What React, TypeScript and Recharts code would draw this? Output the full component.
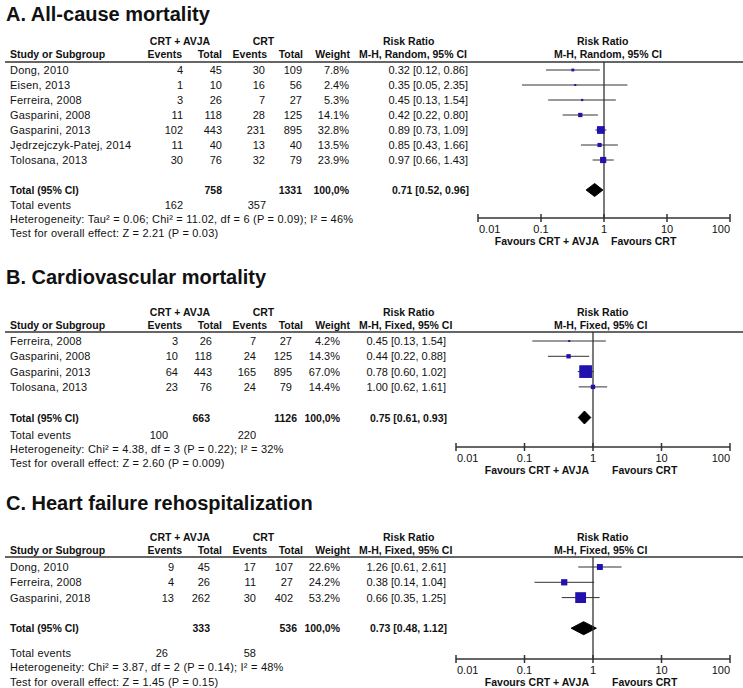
import React from 'react';
import { ComposedChart, Scatter, ErrorBar, Area, XAxis, YAxis, ReferenceLine } from 'recharts';

// A. All-cause mortality
const allStudies = ['Dong, 2010', 'Eisen, 2013', 'Ferreira, 2008', 'Gasparini, 2008', 'Gasparini, 2013', 'Jędrzejczyk-Patej, 2014', 'Tolosana, 2013'];
const allAvjaEvents = [4, 1, 3, 11, 102, 11, 30];
const allAvjaTotal = [45, 10, 26, 118, 443, 40, 76];
const allCrtEvents = [30, 16, 7, 28, 231, 13, 32];
const allCrtTotal = [109, 56, 27, 125, 895, 40, 79];
const allWeight = [7.8, 2.4, 5.3, 14.1, 32.8, 13.5, 23.9];
const allRR = [0.32, 0.35, 0.45, 0.42, 0.89, 0.85, 0.97];
const allLo = [0.12, 0.05, 0.13, 0.22, 0.73, 0.43, 0.66];
const allHi = [0.86, 2.35, 1.54, 0.8, 1.09, 1.66, 1.43];
const allTotal = { avja: 758, crt: 1331, avjaEvents: 162, crtEvents: 357, rr: 0.71, lo: 0.52, hi: 0.96 };

// B. Cardiovascular mortality
const cvStudies = ['Ferreira, 2008', 'Gasparini, 2008', 'Gasparini, 2013', 'Tolosana, 2013'];
const cvAvjaEvents = [3, 10, 64, 23];
const cvAvjaTotal = [26, 118, 443, 76];
const cvCrtEvents = [7, 24, 165, 24];
const cvCrtTotal = [27, 125, 895, 79];
const cvWeight = [4.2, 14.3, 67.0, 14.4];
const cvRR = [0.45, 0.44, 0.78, 1.0];
const cvLo = [0.13, 0.22, 0.6, 0.62];
const cvHi = [1.54, 0.88, 1.02, 1.61];
const cvTotal = { avja: 663, crt: 1126, avjaEvents: 100, crtEvents: 220, rr: 0.75, lo: 0.61, hi: 0.93 };

// C. Heart failure rehospitalization
const hfStudies = ['Dong, 2010', 'Ferreira, 2008', 'Gasparini, 2018'];
const hfAvjaEvents = [9, 4, 13];
const hfAvjaTotal = [45, 26, 262];
const hfCrtEvents = [17, 11, 30];
const hfCrtTotal = [107, 27, 402];
const hfWeight = [22.6, 24.2, 53.2];
const hfRR = [1.26, 0.38, 0.66];
const hfLo = [0.61, 0.14, 0.35];
const hfHi = [2.61, 1.04, 1.25];
const hfTotal = { avja: 333, crt: 536, avjaEvents: 26, crtEvents: 58, rr: 0.73, lo: 0.48, hi: 1.12 };

const TICKS = [0.01, 0.1, 1, 10, 100];

const W = 743;
const H = 688;
const PLOT_RIGHT = 730;
const FONT = "'Liberation Sans', Arial, Helvetica, sans-serif";
const INK = '#111';
const BLUE = '#2111ad';
const LINE = '#333';

const panels = [
  {
    title: 'A. All-cause mortality', method: 'M-H, Random, 95% CI',
    studies: allStudies, avjaEvents: allAvjaEvents, avjaTotal: allAvjaTotal, crtEvents: allCrtEvents, crtTotal: allCrtTotal,
    weight: allWeight, rr: allRR, lo: allLo, hi: allHi, total: allTotal,
    heterogeneity: 'Heterogeneity: Tau² = 0.06; Chi² = 11.02, df = 6 (P = 0.09); I² = 46%',
    overall: 'Test for overall effect: Z = 2.21 (P = 0.03)',
  },
  {
    title: 'B. Cardiovascular mortality', method: 'M-H, Fixed, 95% CI',
    studies: cvStudies, avjaEvents: cvAvjaEvents, avjaTotal: cvAvjaTotal, crtEvents: cvCrtEvents, crtTotal: cvCrtTotal,
    weight: cvWeight, rr: cvRR, lo: cvLo, hi: cvHi, total: cvTotal,
    heterogeneity: 'Heterogeneity: Chi² = 4.38, df = 3 (P = 0.22); I² = 32%',
    overall: 'Test for overall effect: Z = 2.60 (P = 0.009)',
  },
  {
    title: 'C. Heart failure rehospitalization', method: 'M-H, Fixed, 95% CI',
    studies: hfStudies, avjaEvents: hfAvjaEvents, avjaTotal: hfAvjaTotal, crtEvents: hfCrtEvents, crtTotal: hfCrtTotal,
    weight: hfWeight, rr: hfRR, lo: hfLo, hi: hfHi, total: hfTotal,
    heterogeneity: 'Heterogeneity: Chi² = 3.87, df = 2 (P = 0.14); I² = 48%',
    overall: 'Test for overall effect: Z = 1.45 (P = 0.15)',
  },
];

// pixel layout of each panel
const layouts = [
  {
    top: 0, title: 21, head1: 44.5, head2: 58, rule: 62, row0: 70, gap: 15, axis: 218, left: 478,
    c: { ev1: 183, tot1: 222, ev2: 265, tot2: 302, w: 349, rr: 468 },
    t: { tot1: 222, tot2: 302, w: 349, rr: 469, ev1: 183, ev2: 266 },
    foot: [209, 223, 237], favL: 599, favR: 611,
  },
  {
    top: 262, title: 284, head1: 315.5, head2: 328.5, rule: 332, row0: 341, gap: 15.3, axis: 447, left: 456,
    c: { ev1: 178, tot1: 212, ev2: 256, tot2: 292, w: 340, rr: 446 },
    t: { tot1: 210, tot2: 297, w: 340, rr: 447, ev1: 168, ev2: 256 },
    foot: [439, 453, 467], favL: 589, favR: 612,
  },
  {
    top: 488, title: 510, head1: 541, head2: 554, rule: 557, row0: 567, gap: 15.3, axis: 659, left: 456,
    c: { ev1: 174, tot1: 210, ev2: 256, tot2: 293, w: 340, rr: 446 },
    t: { tot1: 210, tot2: 297, w: 340, rr: 447, ev1: 168, ev2: 256 },
    foot: [657, 671, 685.5], favL: 589, favR: 612,
  },
];

const ciText = (r: number, lo: number, hi: number) => `${r.toFixed(2)} [${lo.toFixed(2)}, ${hi.toFixed(2)}]`;

const T = ({ x, y, anchor = 'start', bold = false, size = 11, spacing = 0, children }: any) => (
  <text
    x={x}
    y={y}
    textAnchor={anchor}
    fontSize={size}
    fontWeight={bold ? 'bold' : 'normal'}
    fontFamily={FONT}
    letterSpacing={spacing}
    fill={INK}
  >
    {children}
  </text>
);

const AxisTick = (props: any) => {
  const { x, y, payload } = props;
  const v = payload.value;
  const anchor = v === TICKS[0] ? 'start' : v === TICKS[TICKS.length - 1] ? 'end' : 'middle';
  return (
    <g>
      <line x1={x} x2={x} y1={y - 4} y2={y + 4} stroke={LINE} strokeWidth={1.5} />
      <text x={anchor === 'start' ? x + 1 : x} y={y + 14.5} textAnchor={anchor} fontSize={11} fontFamily={FONT} fill={INK}>
        {String(v)}
      </text>
    </g>
  );
};

const Square = (props: any) => {
  const { cx, cy, payload } = props;
  const s = Math.max(2, 0.67 * Math.pow(payload.w, 0.7));
  return <rect x={cx - s / 2} y={cy - s / 2} width={s} height={s} fill={BLUE} />;
};

function ForestPanel({ p, l }: { p: any; l: any }) {
  const n = p.studies.length;
  const totalRow = n + 1;
  const points = p.studies.map((_: string, i: number) => ({
    x: p.rr[i], y: i, w: p.weight[i], err: [p.rr[i] - p.lo[i], p.hi[i] - p.rr[i]],
  }));
  const half = 6.5 / l.gap;
  const diamond = [
    { x: p.total.lo, band: [totalRow, totalRow] },
    { x: p.total.rr, band: [totalRow - half, totalRow + half] },
    { x: p.total.hi, band: [totalRow, totalRow] },
  ];
  const chartH = l.axis - l.top + 40;
  const yDomain = [(l.rule - l.row0) / l.gap, (l.axis - l.row0) / l.gap];
  const rowY = (i: number) => l.row0 + l.gap * i + 4;

  return (
    <>
      <div style={{ position: 'absolute', left: 0, top: l.top }}>
        <ComposedChart
          width={W}
          height={chartH}
          data={diamond}
          margin={{ top: l.rule - l.top, right: W - PLOT_RIGHT, bottom: 10, left: l.left }}
        >
          <XAxis
            type="number"
            dataKey="x"
            scale="log"
            domain={[0.01, 100]}
            ticks={TICKS}
            interval={0}
            allowDataOverflow
            height={30}
            tickSize={0}
            tickMargin={0}
            tickLine={false}
            axisLine={{ stroke: LINE, strokeWidth: 1.6 }}
            tick={<AxisTick />}
          />
          <YAxis type="number" dataKey="y" domain={yDomain} reversed hide width={0} allowDataOverflow />
          <ReferenceLine x={1} stroke={LINE} strokeWidth={1.3} />
          <Area
            dataKey="band"
            type="linear"
            stroke="#000"
            fill="#000"
            fillOpacity={1}
            dot={false}
            activeDot={false}
            isAnimationActive={false}
          />
          <Scatter data={points} shape={<Square />} isAnimationActive={false}>
            <ErrorBar dataKey="err" direction="x" width={0} stroke={LINE} strokeWidth={1} isAnimationActive={false} />
          </Scatter>
        </ComposedChart>
      </div>

      <svg width={W} height={H} style={{ position: 'absolute', left: 0, top: 0, pointerEvents: 'none' }}>
        <T x={6} y={l.title} bold size={20}>{p.title}</T>

        <T x={180} y={l.head1} anchor="middle" bold size={10.5}>CRT + AVJA</T>
        <T x={263.5} y={l.head1} anchor="middle" bold size={10.5}>CRT</T>
        <T x={383} y={l.head1} bold size={10.5}>Risk Ratio</T>
        <T x={577} y={l.head1} bold size={10.5}>Risk Ratio</T>

        <T x={10} y={l.head2} bold size={10.5}>Study or Subgroup</T>
        <T x={182} y={l.head2} anchor="end" bold size={10.5}>Events</T>
        <T x={222} y={l.head2} anchor="end" bold size={10.5}>Total</T>
        <T x={267} y={l.head2} anchor="end" bold size={10.5}>Events</T>
        <T x={303} y={l.head2} anchor="end" bold size={10.5}>Total</T>
        <T x={350} y={l.head2} anchor="end" bold size={10.5}>Weight</T>
        <T x={359} y={l.head2} bold size={10.5}>{p.method}</T>
        <T x={554} y={l.head2} bold size={10.5}>{p.method}</T>

        <line x1={5} x2={W} y1={l.rule} y2={l.rule} stroke={LINE} strokeWidth={1.5} />

        {p.studies.map((s: string, i: number) => (
          <g key={s + i}>
            <T x={10} y={rowY(i)} spacing={0.2}>{s}</T>
            <T x={l.c.ev1} y={rowY(i)} anchor="end">{p.avjaEvents[i]}</T>
            <T x={l.c.tot1} y={rowY(i)} anchor="end">{p.avjaTotal[i]}</T>
            <T x={l.c.ev2} y={rowY(i)} anchor="end">{p.crtEvents[i]}</T>
            <T x={l.c.tot2} y={rowY(i)} anchor="end">{p.crtTotal[i]}</T>
            <T x={l.c.w} y={rowY(i)} anchor="end">{p.weight[i].toFixed(1)}%</T>
            <T x={l.c.rr} y={rowY(i)} anchor="end">{ciText(p.rr[i], p.lo[i], p.hi[i])}</T>
          </g>
        ))}

        <T x={10} y={rowY(totalRow)} bold size={10.5}>Total (95% CI)</T>
        <T x={l.t.tot1} y={rowY(totalRow)} anchor="end" bold size={10.5}>{p.total.avja}</T>
        <T x={l.t.tot2} y={rowY(totalRow)} anchor="end" bold size={10.5}>{p.total.crt}</T>
        <T x={l.t.w} y={rowY(totalRow)} anchor="end" bold size={10.5}>100,0%</T>
        <T x={l.t.rr} y={rowY(totalRow)} anchor="end" bold size={10.5}>{ciText(p.total.rr, p.total.lo, p.total.hi)}</T>

        <T x={10} y={l.foot[0]} spacing={0.2}>Total events</T>
        <T x={l.t.ev1} y={l.foot[0]} anchor="end">{p.total.avjaEvents}</T>
        <T x={l.t.ev2} y={l.foot[0]} anchor="end">{p.total.crtEvents}</T>
        <T x={10} y={l.foot[1]} spacing={0.22}>{p.heterogeneity}</T>
        <T x={10} y={l.foot[2]} spacing={0.2}>{p.overall}</T>

        <T x={l.favL} y={l.axis + 27} anchor="end" bold size={10.5}>Favours CRT + AVJA</T>
        <T x={l.favR} y={l.axis + 27} bold size={10.5}>Favours CRT</T>
      </svg>
    </>
  );
}

export default function App() {
  return (
    <div style={{ position: 'absolute', left: 0, top: 0, width: W, height: H, overflow: 'hidden', background: '#fff' }}>
      {panels.map((p, i) => (
        <ForestPanel key={p.title} p={p} l={layouts[i]} />
      ))}
    </div>
  );
}
